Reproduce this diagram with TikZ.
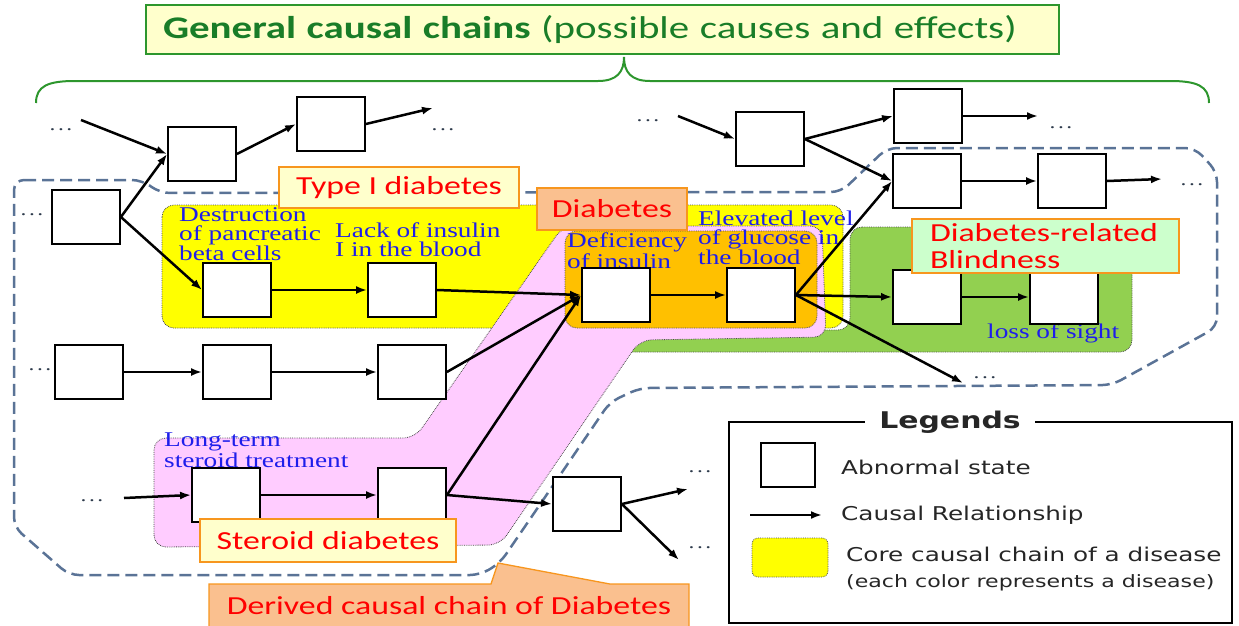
\documentclass[tikz,border=0pt]{standalone}
\usepackage{fontspec}
\setmainfont{Liberation Serif}
\newfontfamily\labfont[FakeStretch=1.3]{Carlito}
\newfontfamily\legfont[FakeStretch=1.3]{DejaVu Sans}
\newfontfamily\notefont[FakeStretch=1.3]{Liberation Serif}
\usetikzlibrary{arrows.meta}
\definecolor{chainblue}{RGB}{90,115,150}
\definecolor{titlegreen}{RGB}{25,125,40}
\definecolor{bracegreen}{RGB}{45,150,45}
\definecolor{paleyellow}{RGB}{255,255,204}
\definecolor{peach}{RGB}{250,192,143}
\definecolor{palegreen}{RGB}{204,255,204}
\definecolor{tagorange}{RGB}{247,150,30}
\definecolor{coreyellow}{RGB}{255,255,0}
\definecolor{coreorange}{RGB}{255,192,0}
\definecolor{coregreen}{RGB}{146,208,80}
\definecolor{corepink}{RGB}{255,204,255}
\definecolor{noteblue}{RGB}{30,30,235}
\tikzset{
  state/.style={draw, fill=white, line width=1.8pt, minimum width=68pt, minimum height=54pt, inner sep=0pt},
  cause/.style={line width=2.5pt, -{Latex[length=11pt,width=8pt]}},
  core/.style={draw=black!70, densely dotted, line width=0.8pt, rounded corners=12pt},
  tagbox/.style={draw=tagorange, line width=1.3pt, text=red, font=\labfont\fontsize{26}{27}\selectfont, inner sep=0pt},
  bluenote/.style={anchor=north west, inner sep=0pt, align=left, text=noteblue, font=\notefont\fontsize{21}{19}\selectfont},
  ellip/.style={text=chainblue!50!black, font=\notefont\fontsize{18}{18}\selectfont, inner sep=0pt},
  legtext/.style={anchor=west, inner sep=0pt, text=black!85, font=\legfont\fontsize{19}{20}\selectfont},
}
\newcommand{\opendots}{.\hspace{2.5pt}.\hspace{2.5pt}.}
\begin{document}
\begin{tikzpicture}[x=1pt, y=-1pt]
\useasboundingbox (0,0) rectangle (1239,625);
% title and brace
\node[draw=bracegreen, line width=1.3pt, fill=paleyellow, text=titlegreen, minimum height=49pt, inner ysep=0pt, inner xsep=17pt, text width=879pt, align=left, font=\labfont\fontsize{31.5}{32}\selectfont] (title) at (602.5,29.5) {{\bfseries General causal chains} (possible causes and effects)};
\draw[bracegreen, line width=2pt] (36,103) .. controls (36,86) and (48,81) .. (75,81) -- (598,81) .. controls (617,81) and (624,72) .. (624,57) .. controls (624,72) and (631,81) .. (650,81) -- (1170,81) .. controls (1197,81) and (1209,86) .. (1209,103);
% core causal chains
\draw[core, fill=coregreen] (850,227) -- (1132,227) -- (1132,352) -- (600,352) -- (600,330) -- (850,330) -- cycle;
\draw[core, fill=coreyellow] (162,205) rectangle (843,328);
\draw[core, fill=corepink] (154,438) -- (415,438) -- (563,226) -- (822,226) -- (826,337) -- (640,340) -- (500,545) -- (154,547) -- cycle;
\draw[core, fill=coreorange] (565,231) rectangle (817,328);
% derived chain
\draw[chainblue, line width=2.5pt, dash pattern=on 12pt off 6pt, rounded corners=10pt] (14,180) -- (142,180) -- (160,193) -- (841,192) -- (887,148) -- (1195,148) -- (1217,172) -- (1217,327) -- (1112,385) -- (640,388) -- (610,402) -- (500,563) -- (480,575) -- (69,575) -- (14,527) -- cycle;
% notes
\node[bluenote] (destrnote) at (179,207) {Destruction\\of pancreatic\\beta cells};
\node[bluenote] (lacknote) at (335,223) {Lack of insulin\\I in the blood};
\node[bluenote] (deficnote) at (567,233) {Deficiency\\of insulin};
\node[bluenote] (glucnote) at (698,211) {Elevated level\\of glucose in\\the blood};
\node[bluenote] (sightnote) at (987,324) {loss of sight};
\node[bluenote] (sternote) at (164,433) {Long-term\\steroid treatment};
% abnormal states
\node[state] (g0) at (86,217) {};
\node[state] (g1) at (202,154) {};
\node[state] (g2) at (331,124) {};
\node[state] (g3) at (770,139) {};
\node[state] (g4) at (928,116) {};
\node[state] (g5) at (927,181) {};
\node[state] (g6) at (1072,181) {};
\node[state] (destr) at (237,290) {};
\node[state] (lack) at (402,290) {};
\node[state] (defic) at (616,295) {};
\node[state] (gluc) at (761,295) {};
\node[state] (bl1) at (927,297) {};
\node[state] (bl2) at (1064,297) {};
\node[state] (m1) at (89,372) {};
\node[state] (m2) at (237,372) {};
\node[state] (m3) at (412,372) {};
\node[state] (ster) at (226,495) {};
\node[state] (s2) at (412,495) {};
\node[state] (s3) at (587,504) {};
% open ends
\node[ellip] (dt1) at (61,130) {\opendots};
\node[ellip] (dt2) at (443,130) {\opendots};
\node[ellip] (dt3) at (648,121) {\opendots};
\node[ellip] (dt4) at (1061,128) {\opendots};
\node[ellip] (dt5) at (1192,185) {\opendots};
\node[ellip] (dt6) at (32,215) {\opendots};
\node[ellip] (dt7) at (40,370) {\opendots};
\node[ellip] (dt8) at (985,378) {\opendots};
\node[ellip] (dt9) at (92,501) {\opendots};
\node[ellip] (dt10) at (700,472) {\opendots};
\node[ellip] (dt11) at (700,548) {\opendots};
\coordinate (c1) at (81,120);
\coordinate (c2) at (433,108);
\coordinate (c3) at (963,383);
\coordinate (c4) at (678,116);
\coordinate (c5) at (1038,116);
\coordinate (c6) at (1162,179);
\coordinate (c7) at (124,498);
\coordinate (c8) at (688,489);
\coordinate (c9) at (679,560);
% causal relationships
\draw[cause] (c1) -- (g1.west);
\draw[cause] (g0.east) -- (g1.west);
\draw[cause] (g0.east) -- (destr.west);
\draw[cause] (g1.east) -- (g2.west);
\draw[cause] (g2.east) -- (c2);
\draw[cause] (destr.east) -- (lack.west);
\draw[cause] (lack.east) -- (defic.west);
\draw[cause] (m3.east) -- (defic.west);
\draw[cause] (s2.east) -- (defic.west);
\draw[cause] (defic.east) -- (gluc.west);
\draw[cause] (gluc.east) -- (g5.west);
\draw[cause] (gluc.east) -- (bl1.west);
\draw[cause] (gluc.east) -- (c3);
\draw[cause] (bl1.east) -- (bl2.west);
\draw[cause] (c4) -- (g3.west);
\draw[cause] (g3.east) -- (g4.west);
\draw[cause] (g3.east) -- (g5.west);
\draw[cause] (g4.east) -- (c5);
\draw[cause] (g5.east) -- (g6.west);
\draw[cause] (g6.east) -- (c6);
\draw[cause] (m1.east) -- (m2.west);
\draw[cause] (m2.east) -- (m3.west);
\draw[cause] (c7) -- (ster.west);
\draw[cause] (ster.east) -- (s2.west);
\draw[cause] (s2.east) -- (s3.west);
\draw[cause] (s3.east) -- (c8);
\draw[cause] (s3.east) -- (c9);
% disease labels
\node[tagbox, fill=paleyellow, minimum width=240pt, minimum height=41pt] (typeone) at (399,187.5) {Type I diabetes};
\node[tagbox, fill=peach, minimum width=150pt, minimum height=42pt] (diab) at (612,209) {Diabetes};
\node[tagbox, fill=palegreen, minimum width=267pt, minimum height=54pt, inner xsep=18pt, text width=231pt, align=left] (blind) at (1045.5,246) {Diabetes-related\\Blindness};
\node[tagbox, fill=paleyellow, minimum width=256pt, minimum height=43pt] (sterlab) at (328,540.5) {Steroid diabetes};
\draw[draw=tagorange, line width=1.3pt, fill=peach] (209,584) -- (491,584) -- (498,563) -- (610,584) -- (689,584) -- (689,630) -- (209,630) -- cycle;
\node[tagbox, draw=none] (derived) at (449,606) {Derived causal chain of Diabetes};
% legend
\draw[line width=1.2pt] (729,422) rectangle (1232,623);
\node[fill=white, inner xsep=14pt, inner ysep=2pt, text=black!85, font=\legfont\bfseries\fontsize{23}{24}\selectfont] (legtitle) at (950,422) {Legends};
\node[state, minimum width=54pt, minimum height=44pt] (legstate) at (788,465) {};
\node[legtext] (legstatetext) at (841,467) {Abnormal state};
\coordinate (legfrom) at (750,515);
\coordinate (legto) at (822,515);
\draw[cause] (legfrom) -- (legto);
\node[legtext] (legcausetext) at (841,515) {Causal Relationship};
\node[core, fill=coreyellow, minimum width=76pt, minimum height=39pt, rounded corners=6pt] (legcore) at (790,557.5) {};
\node[legtext] (legcoretext) at (846,554) {Core causal chain of a disease};
\node[legtext, font=\legfont\fontsize{17}{18}\selectfont] (legcolortext) at (846,583) {(each color represents a disease)};
\end{tikzpicture}
\end{document}
